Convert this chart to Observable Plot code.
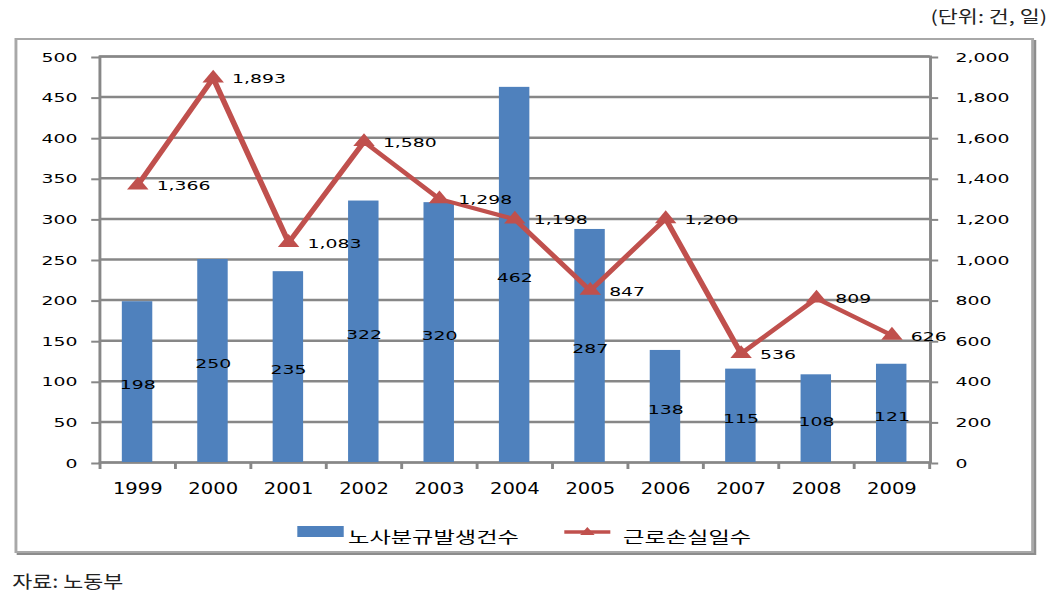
<!DOCTYPE html>
<html>
<head>
<meta charset="utf-8">
<script src="https://cdn.jsdelivr.net/npm/d3@7"></script>
<script src="https://cdn.jsdelivr.net/npm/@observablehq/plot@0.6"></script>
<style>
  html, body { margin: 0; padding: 0; background: #fff; }
  #wrap { position: absolute; left: 0; top: 0; width: 724px; height: 599px;
          transform: scaleX(1.4503); transform-origin: 0 0;
          font-family: "Noto Sans CJK KR", sans-serif; color: #000; }
  #frame { position: absolute; left: 10.3px; top: 38px; width: 703px; height: 515px; box-sizing: border-box;
           border: 2px solid #a8a8a8; box-shadow: 1.5px 2px 0 #8c8c8c; }
  #chart { position: absolute; left: 0; top: 0; }
  .unit { position: absolute; right: 2px; top: 6px; font-size: 15px; line-height: 18px; color: #222; white-space: nowrap;
          transform: scaleY(1.1); transform-origin: 100% 0; }
  .src { position: absolute; left: 8.5px; top: 571px; font-size: 15px; line-height: 18px; color: #222; white-space: nowrap;
         transform: scaleY(1.15); transform-origin: 0 0; }
  .lg-rect { position: absolute; left: 205.3px; top: 526px; width: 31.7px; height: 11px; background: #4F81BD; }
  .lg-text { position: absolute; top: 526px; font-size: 16px; line-height: 20px; white-space: nowrap; }
  .lg-line { position: absolute; left: 389px; top: 524px; }
</style>
</head>
<body>
<div id="wrap">
  <div id="frame"></div>
  <div id="chart"></div>
  <div class="unit">(단위: 건, 일)</div>
  <div class="lg-rect"></div>
  <div class="lg-text" id="lg1" style="left:240px;"></div>
  <svg class="lg-line" width="32" height="16" viewBox="0 0 32 16">
    <line x1="0" y1="8" x2="32" y2="8" stroke="#C0504D" stroke-width="3.5"></line>
    <path d="M16,3 L21,11 L11,11 Z" fill="#C0504D"></path>
  </svg>
  <div class="lg-text" id="lg2" style="left:429.6px;"></div>
  <div class="src">자료: 노동부</div>
</div>
<script>
// ---- data ----
const years = ["1999","2000","2001","2002","2003","2004","2005","2006","2007","2008","2009"];
const disputeCounts = [198, 250, 235, 322, 320, 462, 287, 138, 115, 108, 121];   // 노사분규발생건수 (left axis)
const lostWorkDays = [1366, 1893, 1083, 1580, 1298, 1198, 847, 1200, 536, 809, 626]; // 근로손실일수 (right axis)
const leftTicks = [0, 50, 100, 150, 200, 250, 300, 350, 400, 450, 500];
const rightTicks = [0, 200, 400, 600, 800, 1000, 1200, 1400, 1600, 1800, 2000];
const seriesNames = ["노사분규발생건수", "근로손실일수"];

document.getElementById("lg1").textContent = seriesNames[0];
document.getElementById("lg2").textContent = seriesNames[1];

// ---- layout ----
const W = 724, H = 599;
const mL = 68.4, mR = 82.9, mT = 56, mB = 137;
const RATIO = rightTicks[rightTicks.length - 1] / leftTicks[leftTicks.length - 1];
const step = (W - mL - mR) / years.length;
const fmt = d3.format(",");

const bars = years.map((year, i) => ({year, value: disputeCounts[i]}));
const days = years.map((year, i) => ({year, value: lostWorkDays[i]}));
const gridColor = "#878787";

const chart = Plot.plot({
  width: W, height: H,
  marginLeft: mL, marginRight: mR, marginTop: mT, marginBottom: mB,
  style: {background: "transparent", fontFamily: "DejaVu Sans", fontSize: "13px", color: "#000", overflow: "visible"},
  x: {type: "band", domain: years, paddingInner: 0.6, paddingOuter: 0.3},
  y: {domain: [0, 500]},
  marks: [
    Plot.gridY(leftTicks, {stroke: gridColor, strokeOpacity: 1, strokeWidth: 2.5}),
    Plot.frame({stroke: gridColor, strokeWidth: 2}),
    Plot.axisY({ticks: leftTicks, anchor: "left", tickSize: 5.5, tickPadding: 10,
                stroke: gridColor, strokeWidth: 2, fill: "#000", fontSize: 13, dy: 1, label: null}),
    Plot.axisY({ticks: leftTicks, anchor: "right", tickSize: 4.8, tickPadding: 12.5,
                tickFormat: d => fmt(rightTicks[leftTicks.indexOf(d)]),
                stroke: gridColor, strokeWidth: 2, fill: "#000", fontSize: 13, dy: 1, label: null}),
    Plot.axisX({tickSize: 0, tickPadding: 21, fontSize: 15, fontFamily: "DejaVu Sans Condensed", fill: "#000", label: null}),
    Plot.ruleX(years, {x: d => d, y1: () => 0, y2: () => 0, insetBottom: -7, dx: -step / 2, stroke: gridColor, strokeWidth: 2}),
    Plot.ruleX(years.slice(-1), {x: d => d, y1: () => 0, y2: () => 0, insetBottom: -7, dx: step / 2, stroke: gridColor, strokeWidth: 2}),
    Plot.barY(bars, {x: "year", y: "value", fill: "#4F81BD"}),
    Plot.line(days, {x: "year", y: d => d.value / RATIO, stroke: "#C0504D", strokeWidth: 4}),
    Plot.dot(days, {x: "year", y: d => d.value / RATIO, symbol: "triangle", r: 5.5, fill: "#C0504D", stroke: "none"}),
    Plot.text(bars, {x: "year", y: d => d.value / 2, text: d => String(d.value), fill: "#000", fontSize: 13, dy: 3}),
    Plot.text(days, {x: "year", y: d => d.value / RATIO, text: d => fmt(d.value), textAnchor: "start", dx: 13, dy: 1, fill: "#000", fontSize: 13})
  ]
});
document.getElementById("chart").appendChild(chart);
</script>
</body>
</html>
